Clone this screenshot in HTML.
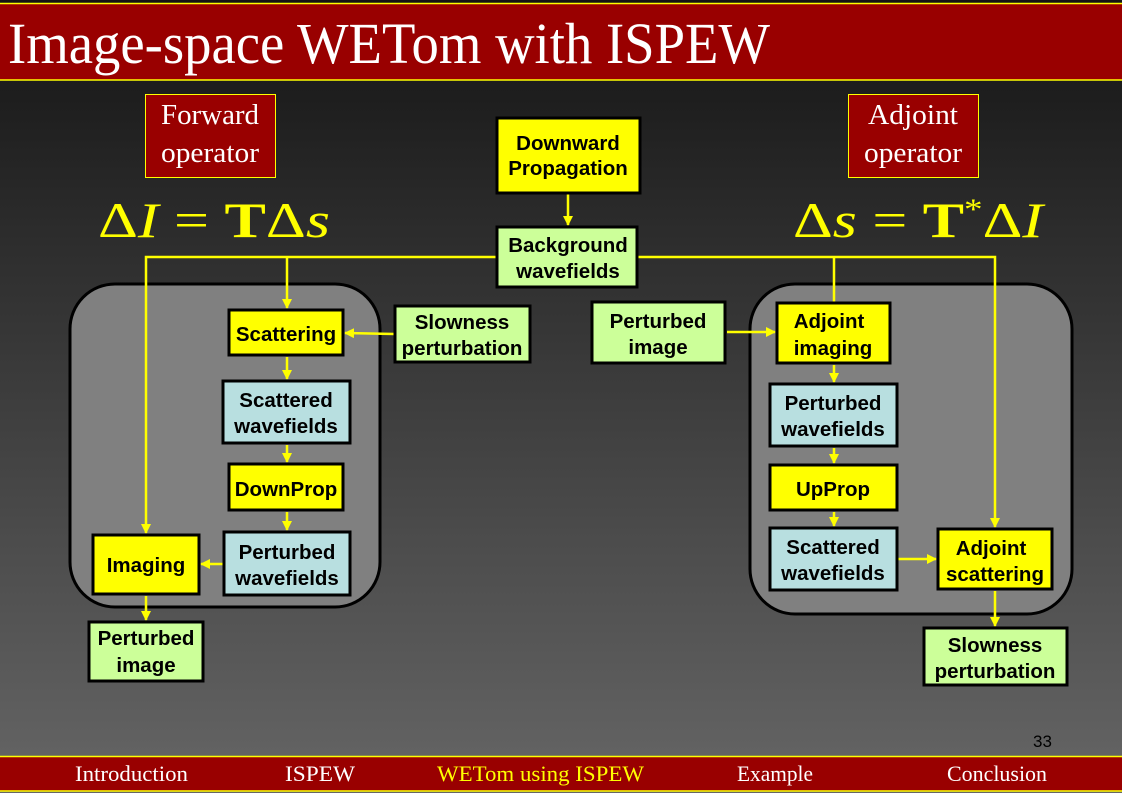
<!DOCTYPE html>
<html><head><meta charset="utf-8"><style>
html,body{margin:0;padding:0;background:#000;}
svg{display:block;}
.b{font-family:"Liberation Sans",Arial,sans-serif;font-weight:bold;font-size:20.5px;fill:#000;text-anchor:middle;}
.s{font-family:"Liberation Serif",serif;fill:#fff;}
</style></head><body>
<svg width="1122" height="793" viewBox="0 0 1122 793" xmlns="http://www.w3.org/2000/svg">
<defs>
<linearGradient id="bg" x1="0" y1="0" x2="0" y2="1">
<stop offset="0" stop-color="#141414"/><stop offset="1" stop-color="#666"/>
</linearGradient>
<marker id="a" markerWidth="10" markerHeight="10" refX="9" refY="5" orient="auto" markerUnits="userSpaceOnUse"><path d="M0,0 L10,5 L0,10 Z" fill="#ff0"/></marker>
</defs>
<rect x="0" y="0" width="1122" height="793" fill="url(#bg)"/>
<!-- title -->
<rect x="0" y="3" width="1122" height="77" fill="#990000"/>
<line x1="0" y1="3.5" x2="1122" y2="3.5" stroke="#ff0" stroke-width="1.5"/>
<line x1="0" y1="80" x2="1122" y2="80" stroke="#ff0" stroke-width="1.5"/>
<text class="s" x="8" y="63" font-size="58" textLength="762" lengthAdjust="spacingAndGlyphs">Image-space WETom with ISPEW</text>
<!-- footer -->
<rect x="0" y="756" width="1122" height="35" fill="#990000"/>
<line x1="0" y1="756.5" x2="1122" y2="756.5" stroke="#ff0" stroke-width="1.5"/>
<line x1="0" y1="791" x2="1122" y2="791" stroke="#ff0" stroke-width="1.5"/>
<g class="s" font-size="22">
<text x="75" y="781" textLength="113" lengthAdjust="spacingAndGlyphs">Introduction</text>
<text x="285" y="781" textLength="70" lengthAdjust="spacingAndGlyphs">ISPEW</text>
<text x="437" y="781" style="fill:#ff0" textLength="207" lengthAdjust="spacingAndGlyphs">WETom using ISPEW</text>
<text x="737" y="781" textLength="76" lengthAdjust="spacingAndGlyphs">Example</text>
<text x="947" y="781" textLength="100" lengthAdjust="spacingAndGlyphs">Conclusion</text>
</g>
<text x="1033" y="747" font-family="Liberation Sans,sans-serif" font-size="17" fill="#000">33</text>
<!-- operator boxes -->
<rect x="145.5" y="94.5" width="130" height="83" fill="#990000" stroke="#ff0" stroke-width="1"/>
<text class="s" x="210" y="124" font-size="29" text-anchor="middle" textLength="98" lengthAdjust="spacingAndGlyphs">Forward</text>
<text class="s" x="210" y="162" font-size="29" text-anchor="middle" textLength="98" lengthAdjust="spacingAndGlyphs">operator</text>
<rect x="848.5" y="94.5" width="130" height="83" fill="#990000" stroke="#ff0" stroke-width="1"/>
<text class="s" x="913" y="124" font-size="29" text-anchor="middle" textLength="90" lengthAdjust="spacingAndGlyphs">Adjoint</text>
<text class="s" x="913" y="162" font-size="29" text-anchor="middle" textLength="98" lengthAdjust="spacingAndGlyphs">operator</text>
<!-- equations -->
<g font-family="Liberation Serif,serif" font-size="50" fill="#ff0">
<text x="98" y="237" textLength="232" lengthAdjust="spacingAndGlyphs">Δ<tspan font-style="italic">I</tspan> = <tspan font-weight="bold">T</tspan>Δ<tspan font-style="italic">s</tspan></text>
<text x="793" y="237" textLength="250" lengthAdjust="spacingAndGlyphs">Δ<tspan font-style="italic">s</tspan> = <tspan font-weight="bold">T</tspan><tspan font-size="30" dy="-18">*</tspan><tspan dy="18">Δ</tspan><tspan font-style="italic">I</tspan></text>
</g>
<!-- rounded containers -->
<rect x="70" y="284" width="310" height="323" rx="45" fill="#808080" stroke="#000" stroke-width="3"/>
<rect x="750" y="284" width="322" height="330" rx="45" fill="#808080" stroke="#000" stroke-width="3"/>
<!-- connectors -->
<g stroke="#ff0" stroke-width="2.5" fill="none">
<polyline points="497,257 146,257 146,533" marker-end="url(#a)"/>
<line x1="287" y1="257" x2="287" y2="308" marker-end="url(#a)"/>
<polyline points="637,257 995,257 995,527" marker-end="url(#a)"/>
<line x1="834" y1="257" x2="834" y2="303"/>
<line x1="568" y1="193" x2="568" y2="225" marker-end="url(#a)"/>
<line x1="395" y1="334" x2="345" y2="333" marker-end="url(#a)"/>
<line x1="287" y1="357" x2="287" y2="379" marker-end="url(#a)"/>
<line x1="287" y1="445" x2="287" y2="462" marker-end="url(#a)"/>
<line x1="287" y1="512" x2="287" y2="530" marker-end="url(#a)"/>
<line x1="224" y1="564" x2="201" y2="564" marker-end="url(#a)"/>
<line x1="146" y1="596" x2="146" y2="620" marker-end="url(#a)"/>
<line x1="727" y1="332" x2="775" y2="332" marker-end="url(#a)"/>
<line x1="834" y1="365" x2="834" y2="382" marker-end="url(#a)"/>
<line x1="834" y1="448" x2="834" y2="463" marker-end="url(#a)"/>
<line x1="834" y1="512" x2="834" y2="526" marker-end="url(#a)"/>
<line x1="898" y1="559" x2="936" y2="559" marker-end="url(#a)"/>
<line x1="995" y1="591" x2="995" y2="626" marker-end="url(#a)"/>
</g>
<!-- nodes -->
<g stroke="#000" stroke-width="3">
<rect x="497" y="118" width="143" height="75" fill="#ffff00"/>
<rect x="497" y="227" width="140" height="60" fill="#ccff99"/>
<rect x="229" y="310" width="114" height="45" fill="#ffff00"/>
<rect x="395" y="306" width="135" height="56" fill="#ccff99"/>
<rect x="223" y="381" width="127" height="62" fill="#b8dfe0"/>
<rect x="229" y="464" width="114" height="46" fill="#ffff00"/>
<rect x="224" y="532" width="126" height="63" fill="#b8dfe0"/>
<rect x="93" y="535" width="106" height="59" fill="#ffff00"/>
<rect x="89" y="622" width="114" height="59" fill="#ccff99"/>
<rect x="592" y="302" width="133" height="61" fill="#ccff99"/>
<rect x="777" y="303" width="113" height="60" fill="#ffff00"/>
<rect x="770" y="384" width="127" height="62" fill="#b8dfe0"/>
<rect x="770" y="465" width="127" height="45" fill="#ffff00"/>
<rect x="770" y="528" width="127" height="62" fill="#b8dfe0"/>
<rect x="938" y="529" width="114" height="60" fill="#ffff00"/>
<rect x="924" y="628" width="143" height="57" fill="#ccff99"/>
</g>
<g class="b">
<text x="568" y="150">Downward</text><text x="568" y="175">Propagation</text>
<text x="568" y="252">Background</text><text x="568" y="278">wavefields</text>
<text x="286" y="341">Scattering</text>
<text x="462" y="329">Slowness</text><text x="462" y="355">perturbation</text>
<text x="286" y="407">Scattered</text><text x="286" y="433">wavefields</text>
<text x="286" y="496">DownProp</text>
<text x="287" y="559">Perturbed</text><text x="287" y="585">wavefields</text>
<text x="146" y="572">Imaging</text>
<text x="146" y="645">Perturbed</text><text x="146" y="672">image</text>
<text x="658" y="328">Perturbed</text><text x="658" y="354">image</text>
<text x="829" y="328">Adjoint</text><text x="833" y="355">imaging</text>
<text x="833" y="410">Perturbed</text><text x="833" y="436">wavefields</text>
<text x="833" y="496">UpProp</text>
<text x="833" y="554">Scattered</text><text x="833" y="580">wavefields</text>
<text x="991" y="555">Adjoint</text><text x="995" y="581">scattering</text>
<text x="995" y="652">Slowness</text><text x="995" y="678">perturbation</text>
</g>
</svg>
</body></html>
